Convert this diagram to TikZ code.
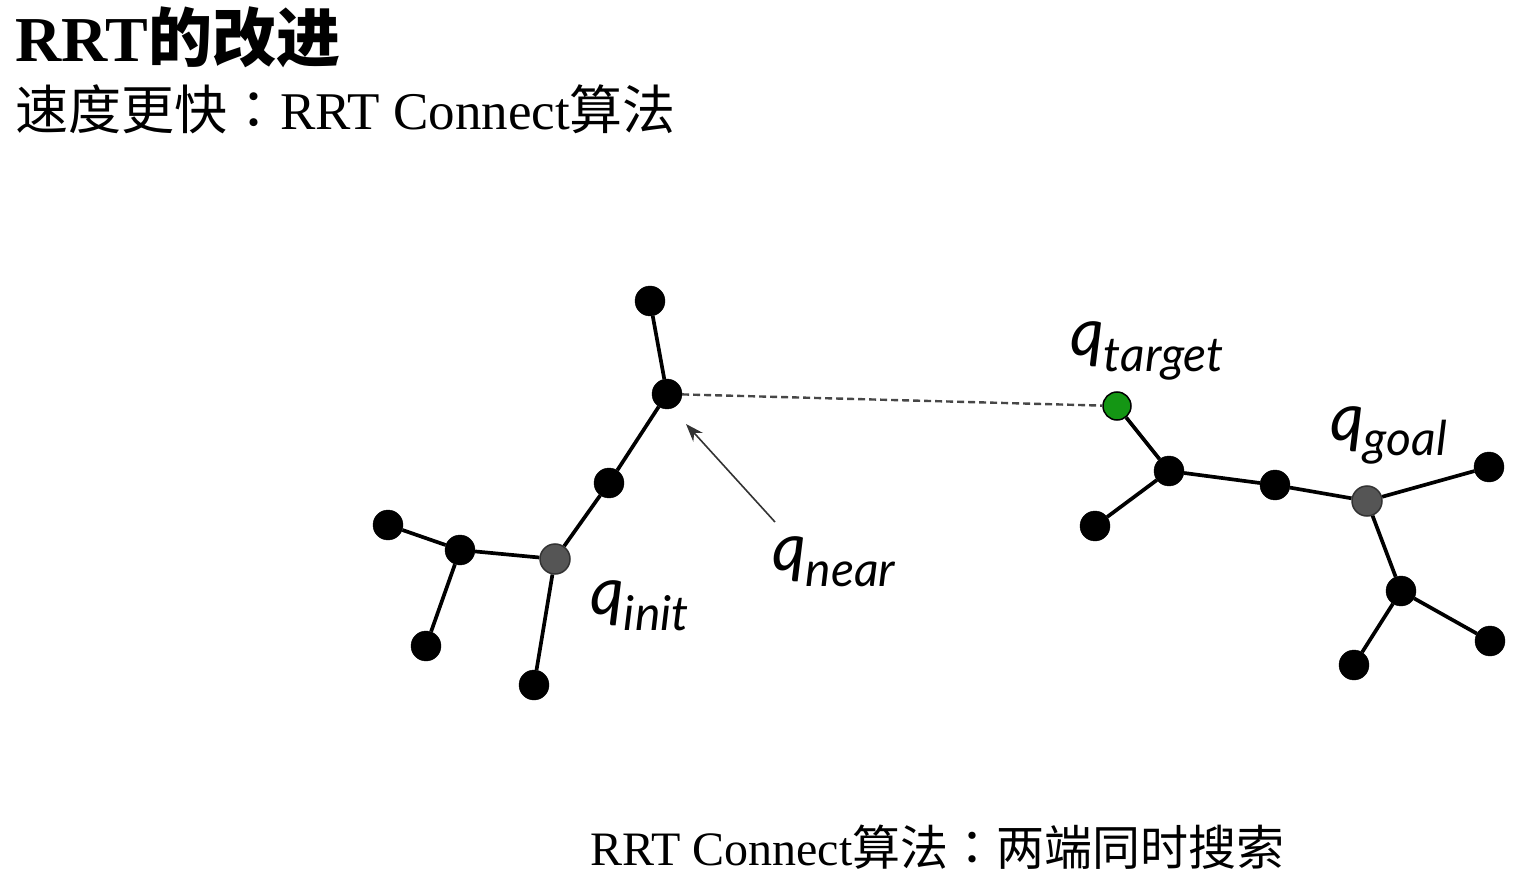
\documentclass[tikz,border=0pt]{standalone}
\usepackage{fontspec}
\setmainfont{Liberation Serif}
\newfontfamily\cjk{Noto Sans CJK SC}
\newfontfamily\cjkc{Noto Sans CJK TC}
\newfontfamily\cjkb{Noto Sans CJK SC Bold}
\newfontfamily\labf{Lato Italic}
\usetikzlibrary{arrows.meta}
\definecolor{initgray}{RGB}{85,85,85}
\definecolor{tgreen}{RGB}{20,150,20}
\newcommand{\qlab}[1]{\labf\fontsize{66}{68}\selectfont q\lower16pt\hbox{\fontsize{48}{50}\selectfont #1}}
\begin{document}
\begin{tikzpicture}[x=1pt,y=-1pt,
  vtx/.style={circle,fill=black,draw=black,inner sep=0pt,minimum size=30pt},
  rootv/.style={circle,fill=initgray,draw=black!80,line width=1.5pt,inner sep=0pt,minimum size=30pt},
  tgtv/.style={circle,fill=tgreen,draw=black,line width=1.5pt,inner sep=0pt,minimum size=28pt},
  edge/.style={line width=3.7pt},
  dashln/.style={line width=2.4pt,draw=black!72,dash pattern=on 7pt off 4pt},
  ptr/.style={line width=1.6pt,draw=black!80,-{Stealth[length=18pt,width=13pt]}},
  lab/.style={anchor=base west,inner sep=0pt},
  txt/.style={anchor=base west,inner sep=0pt}]
\useasboundingbox (0,0) rectangle (1529,890);
% titles
\node[txt] (title) at (15,62) {\fontsize{64}{70}\selectfont\bfseries RRT{\cjkb 的改进}};
\node[txt] (sub) at (15,130) {\fontsize{53}{58}\selectfont{\cjk 速度更快}{\cjkc ：}RRT Connect{\cjk 算法}};
\node[txt] (cap) at (590,865) {\fontsize{48}{52}\selectfont RRT Connect{\cjk 算法}{\cjkc ：}{\cjk 两端同时搜索}};
% left tree
\node[vtx] (t1) at (650,301) {};
\node[vtx] (near) at (667,394) {};
\node[vtx] (m1) at (609,483) {};
\node[rootv] (init) at (555,559) {};
\node[vtx] (a1) at (460,550) {};
\node[vtx] (a2) at (388,525) {};
\node[vtx] (a3) at (426,646) {};
\node[vtx] (i1) at (534,685) {};
% right tree
\node[tgtv] (tgt) at (1117,406) {};
\node[vtx] (b1) at (1169,471) {};
\node[vtx] (b2) at (1095,526) {};
\node[vtx] (c1) at (1275,485) {};
\node[rootv] (goal) at (1367,501) {};
\node[vtx] (d1) at (1489,467) {};
\node[vtx] (e1) at (1401,591) {};
\node[vtx] (e2) at (1354,665) {};
\node[vtx] (e3) at (1490,641) {};
% edges
\draw[edge] (t1) -- (near);
\draw[edge] (near) -- (m1);
\draw[edge] (m1) -- (init);
\draw[edge] (init) -- (a1);
\draw[edge] (a1) -- (a2);
\draw[edge] (a1) -- (a3);
\draw[edge] (init) -- (i1);
\draw[edge] (tgt) -- (b1);
\draw[edge] (b1) -- (b2);
\draw[edge] (b1) -- (c1);
\draw[edge] (c1) -- (goal);
\draw[edge] (goal) -- (d1);
\draw[edge] (goal) -- (e1);
\draw[edge] (e1) -- (e2);
\draw[edge] (e1) -- (e3);
\draw[dashln] (near) -- (tgt);
\coordinate (ptail) at (775,522);
\coordinate (phead) at (686,424);
\draw[ptr] (ptail) -- (phead);
% labels
\node[lab] (ltgt) at (1070,356) {\qlab{target}};
\node[lab] (lgoal) at (1330,440) {\qlab{goal}};
\node[lab] (linit) at (590,614) {\qlab{init}};
\node[lab] (lnear) at (772,570) {\qlab{near}};
\end{tikzpicture}
\end{document}
